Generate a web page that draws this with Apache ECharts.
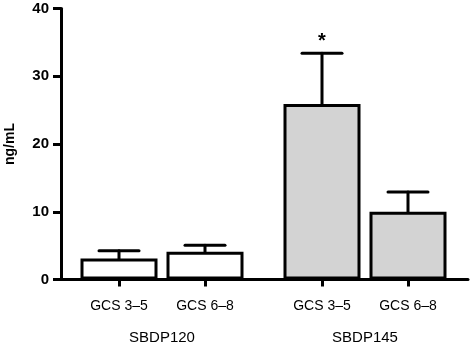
<!DOCTYPE html>
<html>
<head>
<meta charset="utf-8">
<script src="https://cdn.jsdelivr.net/npm/echarts@6/dist/echarts.min.js"></script>
<style>
  html, body { margin: 0; padding: 0; background: #fff; }
  #main { width: 470px; height: 346px; }
</style>
</head>
<body>
<div id="main"></div>
<script>
var groups = ['SBDP120', 'SBDP145'];
var categories = ['GCS 3\u20135', 'GCS 6\u20138'];
// mean and mean + SEM for each group
var means120 = [3.1, 4.1];
var upper120 = [4.25, 5.05];
var means145 = [25.9, 10.0];
var upper145 = [33.4, 12.9];
var marks145 = ['*', ''];
var yTicks = [0, 10, 20, 30, 40];

var font = '"Liberation Sans", Arial, sans-serif';

function errorSeries(axisIndex, means, upper, marks) {
    var data = means.map(function (m, i) { return [i, m, upper[i], marks ? marks[i] : '']; });
    return {
        type: 'custom',
        xAxisIndex: axisIndex,
        yAxisIndex: axisIndex,
        z: 3,
        silent: true,
        data: data,
        renderItem: function (params, api) {
            var base = api.coord([api.value(0), api.value(1)]);
            var top = api.coord([api.value(0), api.value(2)]);
            var halfCap = 20;
            var style = { stroke: '#000', lineWidth: 3, lineCap: 'round' };
            var children = [
                { type: 'line', shape: { x1: base[0], y1: base[1], x2: top[0], y2: top[1] }, style: style },
                { type: 'line', shape: { x1: top[0] - halfCap, y1: top[1], x2: top[0] + halfCap, y2: top[1] }, style: style }
            ];
            var mark = data[params.dataIndex][3];
            if (mark) {
                children.push({
                    type: 'text',
                    style: {
                        text: mark, x: top[0], y: top[1] - 2,
                        align: 'center', verticalAlign: 'bottom',
                        font: 'bold 20px ' + font, fill: '#000'
                    }
                });
            }
            return { type: 'group', children: children };
        }
    };
}

function barSeries(axisIndex, means, fill) {
    return {
        type: 'bar',
        xAxisIndex: axisIndex,
        yAxisIndex: axisIndex,
        barWidth: 77,
        z: 2,
        silent: true,
        itemStyle: { color: fill, borderColor: '#000', borderWidth: 3 },
        data: means
    };
}

function catAxis(gridIndex, name) {
    return {
        type: 'category',
        gridIndex: gridIndex,
        data: categories,
        axisLine: { show: false },
        axisTick: { show: true, alignWithLabel: true, length: 7, lineStyle: { color: '#000', width: 3 } },
        axisLabel: { color: '#000', fontSize: 14, fontFamily: font, margin: 20 },
        name: name,
        nameLocation: 'middle',
        nameGap: 51,
        nameTextStyle: { color: '#000', fontSize: 15, fontFamily: font }
    };
}

function hiddenY(gridIndex) {
    return { type: 'value', gridIndex: gridIndex, min: 0, max: 40, interval: 10, show: false };
}

function grid(extra) {
    var g = { top: 8.5, bottom: 66.5, outerBoundsMode: 'none', containLabel: false };
    for (var k in extra) g[k] = extra[k];
    return g;
}

var option = {
    animation: false,
    backgroundColor: '#fff',
    grid: [
        grid({ left: 61, right: 2 }),
        grid({ left: 76, width: 172 }),
        grid({ left: 279, width: 172 })
    ],
    xAxis: [
        {
            type: 'value', gridIndex: 0, min: 0, max: 1,
            axisLine: { show: true, onZero: false, lineStyle: { color: '#000', width: 3 } },
            axisTick: { show: false }, axisLabel: { show: false }, splitLine: { show: false }
        },
        catAxis(1, groups[0]),
        catAxis(2, groups[1])
    ],
    yAxis: [
        {
            type: 'value', gridIndex: 0, min: yTicks[0], max: yTicks[yTicks.length - 1], interval: 10,
            axisLine: { show: true, lineStyle: { color: '#000', width: 3 } },
            axisTick: { show: true, length: 8, lineStyle: { color: '#000', width: 3 } },
            axisLabel: { color: '#000', fontSize: 15, fontWeight: 'bold', fontFamily: font, margin: 12 },
            splitLine: { show: false },
            name: 'ng/mL',
            nameLocation: 'middle',
            nameRotate: 90,
            nameGap: 44,
            nameTextStyle: { color: '#000', fontSize: 14, fontWeight: 'bold', fontFamily: font }
        },
        hiddenY(1),
        hiddenY(2)
    ],
    series: [
        barSeries(1, means120, '#ffffff'),
        errorSeries(1, means120, upper120),
        barSeries(2, means145, '#d3d3d3'),
        errorSeries(2, means145, upper145, marks145)
    ]
};

var myChart = echarts.init(document.getElementById('main'));
myChart.setOption(option);
</script>
</body>
</html>
